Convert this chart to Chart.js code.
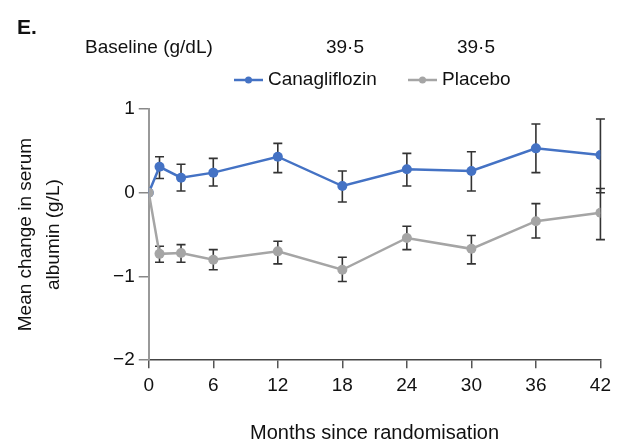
<!DOCTYPE html>
<html>
<head>
<meta charset="utf-8">
<script src="https://cdn.jsdelivr.net/npm/chart.js@4.4.1/dist/chart.umd.min.js"></script>
<style>
  html, body { margin: 0; padding: 0; background: #fff; }
  #wrap { width: 617px; height: 445px; }
</style>
</head>
<body>
<div id="wrap"><canvas id="chart"></canvas></div>
<script>
// 데이터
const months = [0, 1, 3, 6, 12, 18, 24, 30, 36, 42];
const canaMean = [0, 0.31, 0.18, 0.24, 0.43, 0.08, 0.28, 0.26, 0.53, 0.45];
const canaLow = [null, 0.17, 0.02, 0.08, 0.24, -0.11, 0.08, 0.02, 0.24, 0.0];
const canaHigh = [null, 0.43, 0.34, 0.41, 0.59, 0.26, 0.47, 0.49, 0.82, 0.88];
const placMean = [0, -0.73, -0.72, -0.80, -0.70, -0.92, -0.54, -0.67, -0.34, -0.24];
const placLow = [null, -0.83, -0.83, -0.92, -0.85, -1.06, -0.68, -0.85, -0.54, -0.56];
const placHigh = [null, -0.64, -0.62, -0.68, -0.58, -0.77, -0.40, -0.51, -0.13, 0.05];
const seriesNames = ['Canagliflozin', 'Placebo'];
const baselineValues = ['39·5', '39·5'];
const xTicks = [0, 6, 12, 18, 24, 30, 36, 42];
const yTicks = [-2, -1, 0, 1];

const FONT = "'Liberation Sans Narrow', 'Arial Narrow', 'Liberation Sans', sans-serif";
const BLUE = '#4472C4';
const GREY = '#A5A5A5';

const toPoints = (ys) => months.map((m, i) => ({ x: m, y: ys[i] }));

// 오차 막대
const errorBars = {
  id: 'errorBars',
  beforeDatasetsDraw(chart) {
    const { ctx, scales: { x, y } } = chart;
    ctx.save();
    ctx.strokeStyle = '#333';
    ctx.lineWidth = 1.6;
    chart.data.datasets.forEach((ds) => {
      ds.lows.forEach((lo, i) => {
        if (lo === null) return;
        const px = x.getPixelForValue(months[i]);
        const top = y.getPixelForValue(ds.highs[i]);
        const bot = y.getPixelForValue(lo);
        ctx.beginPath();
        ctx.moveTo(px, top); ctx.lineTo(px, bot);
        ctx.moveTo(px - 4.5, top); ctx.lineTo(px + 4.5, top);
        ctx.moveTo(px - 4.5, bot); ctx.lineTo(px + 4.5, bot);
        ctx.stroke();
      });
    });
    ctx.restore();
  }
};

// 상단 텍스트 + 범례
const header = {
  id: 'header',
  afterDraw(chart) {
    const { ctx } = chart;
    ctx.save();
    ctx.fillStyle = '#111';
    ctx.textBaseline = 'middle';
    ctx.font = 'bold 21px ' + FONT;
    ctx.textAlign = 'left';
    ctx.fillText('E.', 17, 28);
    ctx.font = '19px ' + FONT;
    ctx.fillText('Baseline (g/dL)', 85, 48);
    ctx.textAlign = 'center';
    ctx.fillText(baselineValues[0], 345, 48);
    ctx.fillText(baselineValues[1], 476, 48);

    const startX = [234, 408];
    ctx.textAlign = 'left';
    seriesNames.forEach((name, i) => {
      const ds = chart.data.datasets.find(d => d.label === name);
      const lx = startX[i];
      ctx.strokeStyle = ds.borderColor;
      ctx.lineWidth = 2.5;
      ctx.beginPath(); ctx.moveTo(lx, 80); ctx.lineTo(lx + 29, 80); ctx.stroke();
      ctx.fillStyle = ds.borderColor;
      ctx.beginPath(); ctx.arc(lx + 14.5, 80, 3.5, 0, Math.PI * 2); ctx.fill();
      ctx.fillStyle = '#111';
      ctx.fillText(ds.label, lx + 34, 80);
    });
    ctx.restore();
  }
};

const makeSet = (label, mean, lows, highs, color) => ({
  label,
  data: toPoints(mean),
  lows,
  highs,
  borderColor: color,
  backgroundColor: color,
  borderWidth: 2.5,
  pointRadius: 5,
  pointHoverRadius: 5,
  pointBorderWidth: 0,
  tension: 0,
});

new Chart(document.getElementById('chart'), {
  type: 'line',
  data: {
    // placebo 가 위에 그려지도록 index 0
    datasets: [
      makeSet(seriesNames[1], placMean, placLow, placHigh, GREY),
      makeSet(seriesNames[0], canaMean, canaLow, canaHigh, BLUE),
    ]
  },
  options: {
    responsive: true,
    maintainAspectRatio: false,
    animation: false,
    events: [],
    layout: { padding: { top: 109, right: 15, left: 12, bottom: 0 } },
    plugins: { legend: { display: false }, tooltip: { enabled: false } },
    scales: {
      x: {
        type: 'linear',
        min: 0, max: 42,
        afterBuildTicks: (s) => { s.ticks = xTicks.map(v => ({ value: v })); },
        grid: { drawOnChartArea: false, drawTicks: true, tickLength: 8, color: '#555', lineWidth: 1.5 },
        border: { display: true, color: '#444', width: 1.5 },
        ticks: { color: '#111', font: { family: FONT, size: 19 }, padding: 6 },
        title: { display: true, text: 'Months since randomisation', color: '#111',
                 font: { family: FONT, size: 20 }, padding: { top: 18, bottom: 0 } }
      },
      y: {
        min: -2, max: 1,
        afterBuildTicks: (s) => { s.ticks = yTicks.map(v => ({ value: v })); },
        grid: { drawOnChartArea: false, drawTicks: true, tickLength: 10, color: '#888', lineWidth: 1.5 },
        border: { display: true, color: '#999', width: 2 },
        ticks: { color: '#111', font: { family: FONT, size: 19 }, padding: 4,
                 callback: (v) => (v < 0 ? '\u2212' + Math.abs(v) : String(v)) },
        title: { display: true, text: ['Mean change in serum', 'albumin (g/L)'], color: '#111',
                 font: { family: FONT, size: 19, lineHeight: 1.45 }, padding: { top: 0, bottom: 42 } }
      }
    }
  },
  plugins: [errorBars, header]
});
</script>
</body>
</html>
